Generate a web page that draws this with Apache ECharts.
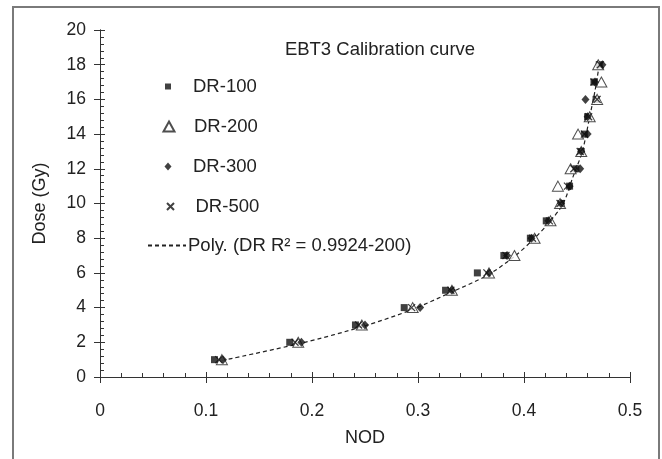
<!DOCTYPE html>
<html>
<head>
<meta charset="utf-8">
<script src="https://cdn.jsdelivr.net/npm/echarts@6/dist/echarts.min.js"></script>
<style>
  html, body { margin: 0; padding: 0; background: #fff; }
  #main { width: 662px; height: 459px; }
</style>
</head>
<body>
<div id="main"></div>
<script>
// dose levels (Gy)
const doses = [1, 2, 3, 4, 5, 6, 7, 8, 9, 10, 11, 12, 13, 14, 15, 16, 17, 18];

// NOD read for each dose, per dose rate
const nodDR100 = [0.108, 0.179, 0.241, 0.287, 0.326, 0.356, 0.381, 0.406, 0.421, 0.435, 0.443, 0.449, 0.454, 0.457, 0.460, 0.468, 0.466, 0.471];
const nodDR200 = [0.115, 0.187, 0.247, 0.295, 0.332, 0.367, 0.391, 0.410, 0.425, 0.434, 0.432, 0.444, 0.454, 0.451, 0.462, 0.469, 0.473, 0.470];
const nodDR300 = [0.116, 0.190, 0.250, 0.302, 0.332, 0.367, 0.384, 0.407, 0.423, 0.435, 0.443, 0.453, 0.454, 0.460, 0.460, 0.458, 0.467, 0.474];
const nodDR500 = [0.112, 0.184, 0.244, 0.294, 0.331, 0.365, 0.383, 0.408, 0.424, 0.434, 0.441, 0.447, 0.453, 0.457, 0.461, 0.469, 0.466, 0.472];

// trendline
const trendNod  = [0.115, 0.19, 0.25, 0.295, 0.33, 0.365, 0.39, 0.41, 0.425, 0.437, 0.446, 0.455, 0.462, 0.467, 0.471];
const trendDose = [0.95, 1.95, 2.95, 3.9, 4.85, 5.85, 6.9, 8.0, 9.0, 10.0, 11.5, 13.0, 15.0, 16.5, 18.0];

const pair = (xs, ys) => xs.map((x, i) => [x, ys[i]]);

const txt = '#222';
const ax = '#333';
const font = 'Liberation Sans';
const crossPath = 'path://M0,0L10,10M10,0L0,10';
const polyName = 'Poly. (DR R² = 0.9924-200)';

// one legend block per entry so each marker keeps its own size
function legendItem(name, top, w, h) {
  return {
    data: [name], orient: 'vertical', padding: 0,
    left: 168 - w / 2, top: top,
    itemWidth: w, itemHeight: h,
    textStyle: { fontSize: 18.5, color: txt, fontFamily: font, padding: [0, 0, 0, 20 - w / 2] }
  };
}

const chart = echarts.init(document.getElementById('main'));

chart.setOption({
  animation: false,
  textStyle: { fontFamily: font },
  graphic: [{
    type: 'rect',
    shape: { x: 13, y: 7, width: 646, height: 470 },
    style: { fill: 'none', stroke: '#7a7a7a', lineWidth: 2 }
  }],
  title: {
    text: 'EBT3 Calibration curve',
    left: 375, top: 35, textAlign: 'center',
    textStyle: { fontSize: 18.5, fontWeight: 'normal', color: txt, fontFamily: font }
  },
  legend: [
    legendItem('DR-100', 77, 6, 6),
    legendItem('DR-200', 117, 11, 10),
    legendItem('DR-300', 157, 7, 8),
    legendItem('DR-500', 197, 7, 7),
    {
      data: [polyName], orient: 'vertical', padding: 0,
      left: 147, top: 236,
      itemWidth: 38, itemHeight: 10,
      itemStyle: { opacity: 0 },
      textStyle: { fontSize: 18.5, color: txt, fontFamily: font, padding: [0, 0, 0, -3] }
    }
  ],
  grid: { left: 100, right: 32, top: 30, bottom: 82 },
  xAxis: [{
    type: 'value', min: 0, max: 0.5, interval: 0.1,
    name: 'NOD', nameLocation: 'middle', nameGap: 52,
    nameTextStyle: { fontSize: 18, color: txt },
    axisLine: { lineStyle: { color: ax, width: 1 } },
    axisTick: { show: true, length: 6, lineStyle: { color: ax } },
    axisLabel: { fontSize: 17.5, color: txt, margin: 25, formatter: v => String(+v.toFixed(1)) },
    splitLine: { show: false }
  }, {
    type: 'value', min: 0, max: 0.5, interval: 0.1, position: 'bottom',
    axisLine: { lineStyle: { color: ax, width: 1 } },
    axisTick: { show: true, inside: true, length: 5, lineStyle: { color: ax } },
    minorTick: { show: true, splitNumber: 5, length: 4, lineStyle: { color: ax } },
    axisLabel: { show: false },
    splitLine: { show: false }
  }],
  yAxis: [{
    type: 'value', min: 0, max: 20, interval: 2,
    name: 'Dose (Gy)', nameLocation: 'middle', nameGap: 51,
    nameTextStyle: { fontSize: 18, color: txt },
    axisLine: { show: true, lineStyle: { color: ax, width: 1 } },
    axisTick: { show: true, length: 6, lineStyle: { color: ax } },
    axisLabel: { fontSize: 17.5, color: txt, margin: 14 },
    splitLine: { show: false }
  }, {
    type: 'value', min: 0, max: 20, interval: 2, position: 'left',
    axisLine: { show: true, lineStyle: { color: ax, width: 1 } },
    axisTick: { show: true, inside: true, length: 5, lineStyle: { color: ax } },
    minorTick: { show: true, splitNumber: 5, length: 4, lineStyle: { color: ax } },
    axisLabel: { show: false },
    splitLine: { show: false }
  }],
  series: [{
    name: 'DR-100', type: 'scatter',
    data: pair(nodDR100, doses),
    symbol: 'rect', symbolSize: 7,
    itemStyle: { color: '#111' }
  }, {
    name: 'DR-200', type: 'scatter',
    data: pair(nodDR200, doses),
    symbol: 'triangle', symbolSize: [11, 10],
    itemStyle: { color: '#fff', borderColor: '#222', borderWidth: 1 }
  }, {
    name: 'DR-300', type: 'scatter',
    data: pair(nodDR300, doses),
    symbol: 'diamond', symbolSize: [8, 9],
    itemStyle: { color: '#111' }
  }, {
    name: 'DR-500', type: 'scatter',
    data: pair(nodDR500, doses),
    symbol: crossPath, symbolSize: 7,
    itemStyle: { color: 'none', borderColor: '#111', borderWidth: 1.3 }
  }, {
    name: polyName, type: 'line',
    data: pair(trendNod, trendDose),
    smooth: 0.3, showSymbol: false, symbol: 'none',
    itemStyle: { color: '#222' },
    lineStyle: { color: '#222', width: 1.2, type: [4, 3] },
    z: 1
  }]
});
</script>
</body>
</html>
